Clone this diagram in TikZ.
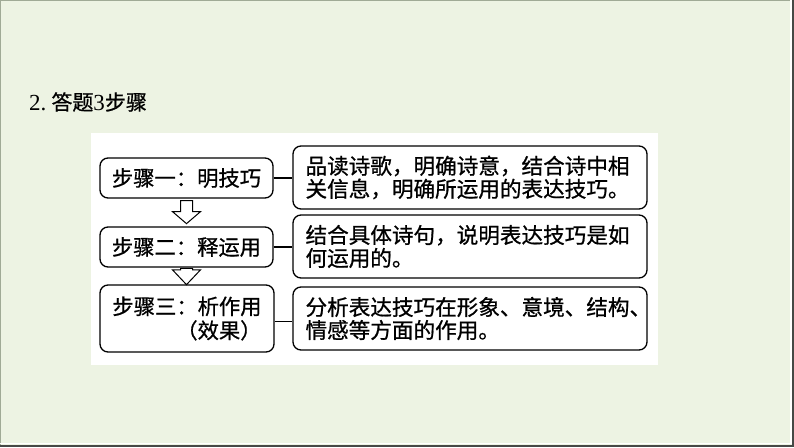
\documentclass[tikz,border=0pt]{standalone}
\usepackage{fontspec}
\setmainfont{Liberation Serif}
\newfontfamily\cjk[FakeBold=0.8]{Noto Sans CJK SC}
\usetikzlibrary{calc}
\definecolor{bg}{RGB}{237,243,227}
\definecolor{edgegreen}{RGB}{160,170,150}
\definecolor{edgedark}{RGB}{70,72,70}
\begin{document}
\begin{tikzpicture}[x=1pt,y=-1pt,
  boxline/.style={draw=black, line width=1.3pt, rounded corners=8pt, fill=white, inner sep=0pt},
  stepbox/.style={boxline, minimum width=173pt, minimum height=40pt, font=\cjk\fontsize{21.3}{24}\selectfont},
  descbox/.style={boxline, minimum width=354pt, minimum height=63pt},
  desctext/.style={anchor=west, align=left, inner sep=0pt, font=\cjk\fontsize{21.6}{23}\selectfont},
  link/.style={draw=black, line width=1.2pt},
  blockarrow/.style={draw=black, line width=1pt, fill=white, line join=miter}]
\useasboundingbox (0,0) rectangle (794,447);
% background and slide edges
\fill[bg] (0,0) rectangle (794,447);
\draw[edgegreen, line width=1.5pt] (0,447) -- (0,0) -- (794,0);
\draw[white, line width=1.5pt] (0,443.5) -- (791,443.5) -- (791,0);
\draw[edgedark, line width=2pt] (0,446) -- (793,446) -- (793,0);
% white panel
\fill[white] (91,133) rectangle (658,365);
% title
\node[anchor=base west, inner sep=0pt, font=\fontsize{23}{23}\selectfont] (title) at (29,110)
  {2.\hspace{5pt}{\cjk\fontsize{21}{21}\selectfont 答题}3{\cjk\fontsize{21}{21}\selectfont 步骤}};
% step boxes
\node[stepbox] (L1) at (186.5,178) {步骤一：明技巧};
\node[stepbox] (L2) at (186.5,247) {步骤二：释运用};
\node[stepbox, minimum width=174pt, minimum height=67pt, align=right] (L3) at (187,318.5) {步骤三：析作用\\（效果）};
% description boxes
\node[descbox] (R1) at (470,177.5) {};
\node[descbox] (R2) at (470,246.5) {};
\node[descbox] (R3) at (470,318.5) {};
\node[desctext] (T1) at ($(R1.west)+(13,0)$) {品读诗歌，明确诗意，结合诗中相\\关信息，明确所运用的表达技巧。};
\node[desctext] (T2) at ($(R2.west)+(13,0)$) {结合具体诗句，说明表达技巧是如\\何运用的。};
\node[desctext] (T3) at ($(R3.west)+(13,0)$) {分析表达技巧在形象、意境、结构、\\情感等方面的作用。};
% connectors
\draw[link] (L1.east) -- (L1.east -| R1.west);
\draw[link] (L2.east) -- (L2.east -| R2.west);
\draw[link] ($(L3.east)+(0,3)$) -- ($(L3.east -| R3.west)+(0,3)$);
% hollow down arrows
\draw[blockarrow] ($(L1.south)+(-6,2)$) -- ++(12,0) -- ++(0,11) -- ++(8,0) -- ($(L1.south)+(0,25)$)
  -- ($(L1.south)+(-14,13)$) -- ++(8,0) -- cycle;
\draw[blockarrow] ($(L2.south)+(-6,0.7)$) -- ++(12,0) -- ++(0,1.5) -- ++(8,0) -- ($(L2.south)+(0,17)$)
  -- ($(L2.south)+(-14,2.2)$) -- ++(8,0) -- cycle;
\end{tikzpicture}
\end{document}
